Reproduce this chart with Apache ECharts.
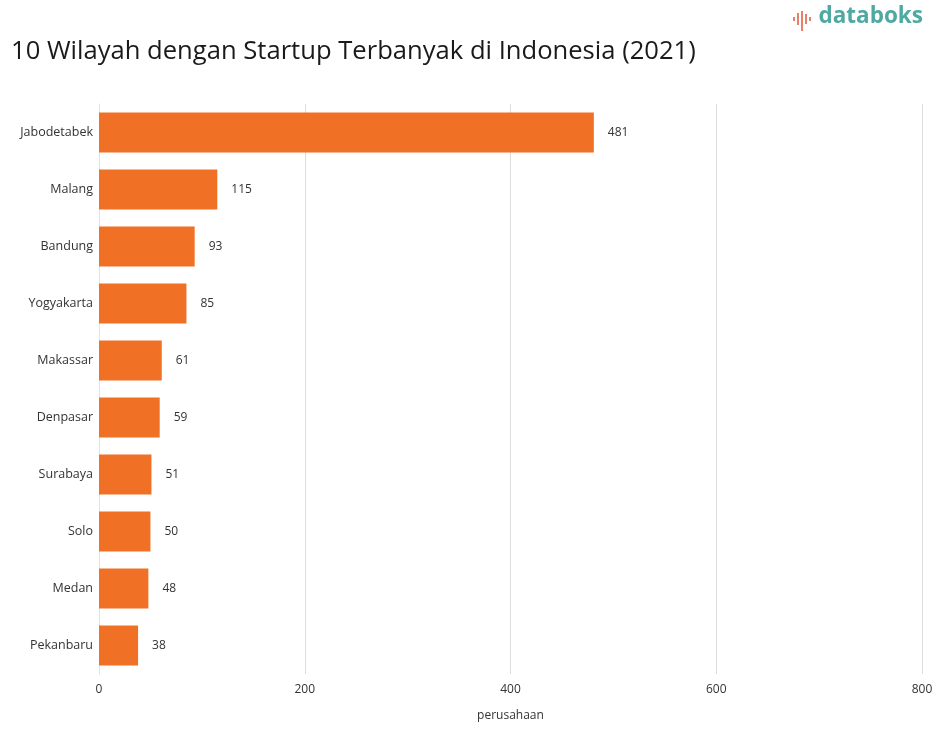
<!DOCTYPE html>
<html><head><meta charset="utf-8">
<script src="https://cdn.jsdelivr.net/npm/echarts@6/dist/echarts.min.js"></script>
<style>html,body{margin:0;padding:0;background:#fff}#c{width:942px;height:729px}</style>
</head><body><div id="c"></div>
<script>
const categories = ['Jabodetabek','Malang','Bandung','Yogyakarta','Makassar','Denpasar','Surabaya','Solo','Medan','Pekanbaru'];
const values = [481,115,93,85,61,59,51,50,48,38];
const xTicks = [0,200,400,600,800];

const chart = echarts.init(document.getElementById('c'));
chart.setOption({
  backgroundColor:'#fff',
  animation:false,
  textStyle:{fontFamily:'Open Sans, Noto Sans, sans-serif'},
  title:{text:'10 Wilayah dengan Startup Terbanyak di Indonesia (2021)',left:6,top:34,
    textStyle:{fontSize:25.6,fontWeight:'normal',color:'#1a1a1a',fontFamily:'Open Sans, Noto Sans, sans-serif'}},
  graphic:[
    {type:'text',right:19,top:5,style:{text:'databoks',fontSize:22.5,fontWeight:'bold',fill:'#4fa9a3',fontFamily:'Open Sans, sans-serif'}},
    {type:'group',left:793,top:11,children:[
      {type:'rect',shape:{x:0,y:6,width:2,height:4},style:{fill:'#e9806a'}},
      {type:'rect',shape:{x:4,y:2,width:2,height:12},style:{fill:'#e9806a'}},
      {type:'rect',shape:{x:8,y:0,width:2,height:20},style:{fill:'#e9806a'}},
      {type:'rect',shape:{x:12,y:3,width:2,height:10},style:{fill:'#e9806a'}},
      {type:'rect',shape:{x:16,y:6,width:2,height:4},style:{fill:'#e9806a'}}
    ]}
  ],
  grid:{left:99,right:20,top:104,bottom:55,containLabel:false},
  xAxis:{type:'value',min:0,max:800,interval:200,
    name:'perusahaan',nameLocation:'middle',nameGap:36,
    nameTextStyle:{fontSize:12,color:'#333'},
    axisLabel:{fontSize:12,color:'#333',margin:10,
      formatter:v=>xTicks.includes(v)?String(v):''},
    splitLine:{lineStyle:{color:'#dcdcdc'}},
    axisLine:{show:false},axisTick:{show:false}},
  yAxis:{type:'category',data:categories,inverse:true,
    axisLabel:{fontSize:12.5,color:'#333',margin:6},
    axisLine:{show:true,lineStyle:{color:'#e3e3e3'}},axisTick:{show:false}},
  series:[{type:'bar',data:values,barCategoryGap:'30%',
    itemStyle:{color:'#f07126'},
    label:{show:true,position:'right',distance:14,fontSize:12,color:'#333'}}]
});
</script></body></html>
